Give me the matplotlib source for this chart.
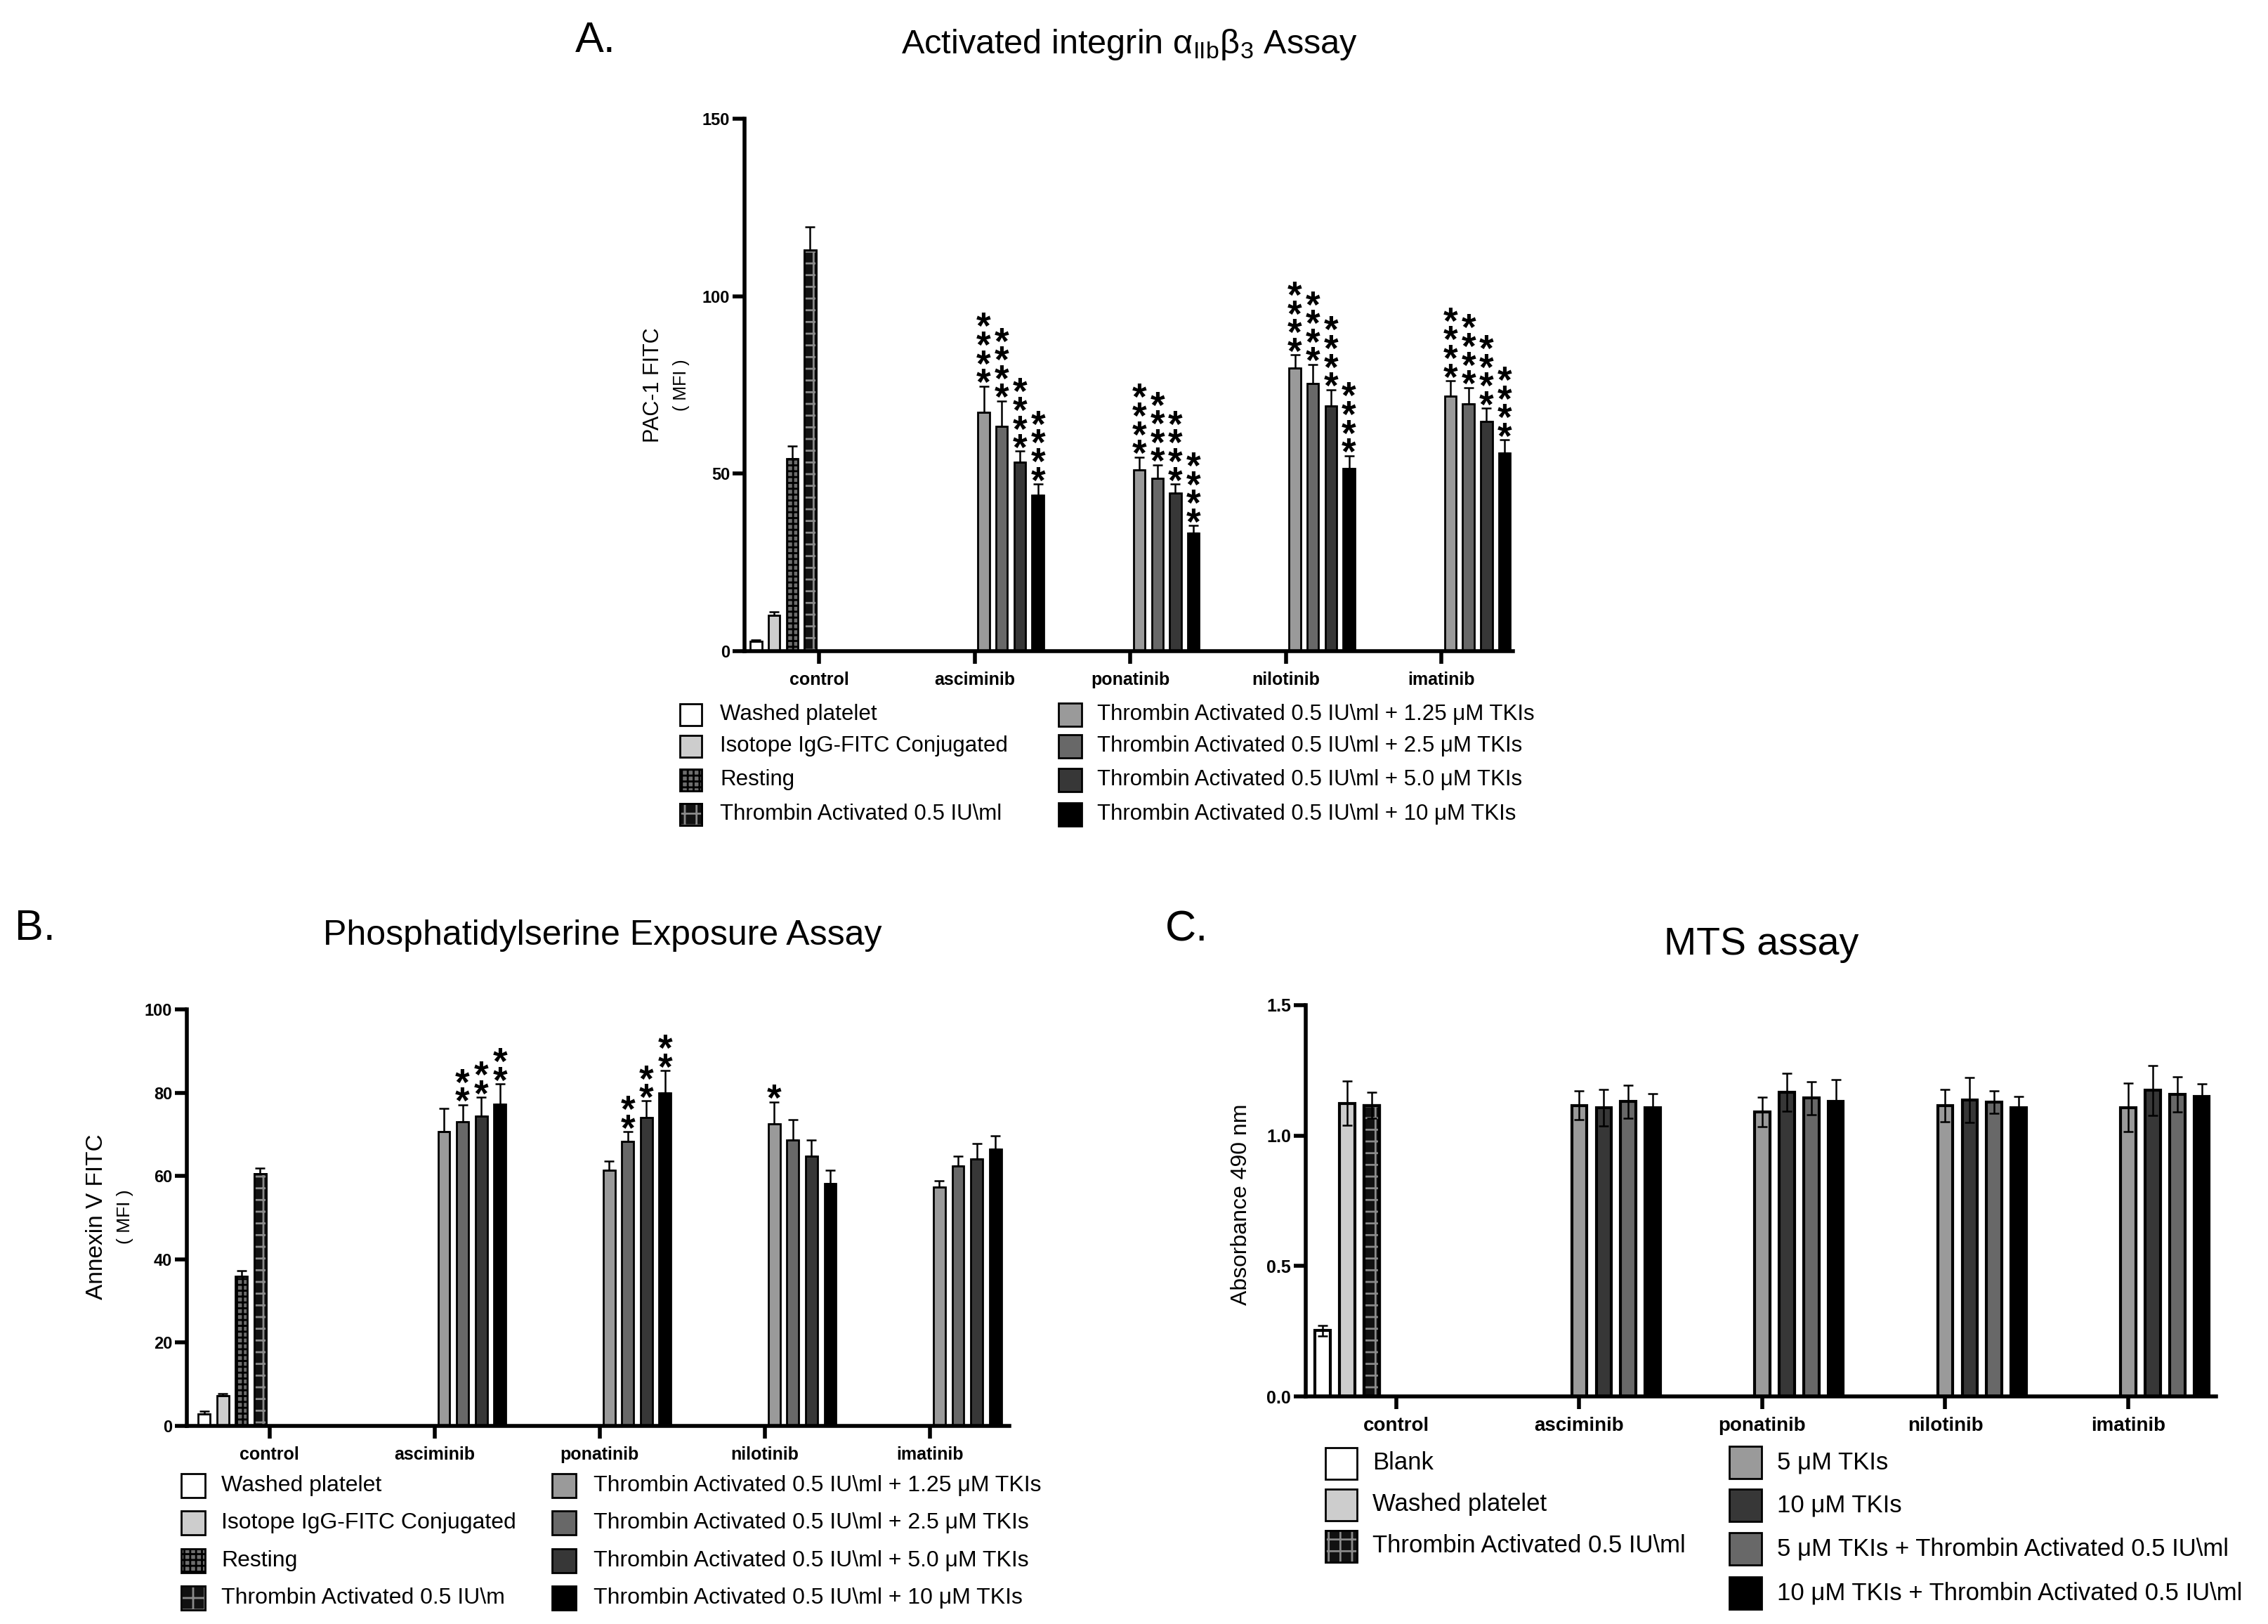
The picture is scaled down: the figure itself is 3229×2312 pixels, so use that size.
import matplotlib
matplotlib.use('Agg')
import matplotlib.pyplot as plt
from matplotlib.patches import Rectangle

plt.rcParams['font.family'] = ['Liberation Sans', 'DejaVu Sans']
plt.rcParams['mathtext.fontset'] = 'custom'
plt.rcParams['mathtext.rm'] = 'Liberation Sans'
plt.rcParams['mathtext.default'] = 'regular'
plt.rcParams['hatch.linewidth'] = 2.0

# ---------------- data ----------------
drugs = ['control', 'asciminib', 'ponatinib', 'nilotinib', 'imatinib']

# A. activated integrin aIIbb3 (PAC-1 FITC, MFI)
pac_ctrl_names = ['Washed platelet', 'Isotope IgG-FITC Conjugated', 'Resting',
                  'Thrombin Activated 0.5 IU\\ml']
pac_ctrl_mean = [2.8, 10.1, 54.2, 112.9]
pac_ctrl_sd = [0.4, 1.0, 3.6, 6.7]
pac_tki_names = ['Thrombin Activated 0.5 IU\\ml + 1.25 μM TKIs',
                 'Thrombin Activated 0.5 IU\\ml + 2.5 μM TKIs',
                 'Thrombin Activated 0.5 IU\\ml + 5.0 μM TKIs',
                 'Thrombin Activated 0.5 IU\\ml + 10 μM TKIs']
# rows: asciminib, ponatinib, nilotinib, imatinib / cols: 1.25, 2.5, 5.0, 10 uM
pac_tki_mean = [[67.3, 63.3, 53.2, 43.9],
                [51.0, 48.7, 44.6, 33.2],
                [79.7, 75.3, 69.0, 51.5],
                [71.8, 69.6, 64.8, 55.9]]
pac_tki_sd = [[7.4, 7.2, 3.1, 3.2],
              [3.7, 3.8, 2.5, 2.2],
              [3.8, 5.5, 4.7, 3.6],
              [4.4, 4.7, 3.6, 3.6]]
pac_stars = [['****', '****', '****', '****'],
             ['****', '****', '****', '****'],
             ['****', '****', '****', '****'],
             ['****', '****', '****', '****']]

# B. phosphatidylserine exposure (Annexin V FITC, MFI)
ann_ctrl_names = ['Washed platelet', 'Isotope IgG-FITC Conjugated', 'Resting',
                  'Thrombin Activated 0.5 IU\\m']
ann_ctrl_mean = [2.9, 7.3, 35.9, 60.5]
ann_ctrl_sd = [0.6, 0.4, 1.4, 1.4]
ann_tki_names = pac_tki_names
ann_tki_mean = [[70.6, 73.0, 74.3, 77.3],
                [61.4, 68.3, 74.1, 80.0],
                [72.5, 68.7, 64.7, 58.1],
                [57.4, 62.4, 64.1, 66.5]]
ann_tki_sd = [[5.6, 4.1, 4.6, 4.8],
              [2.1, 2.3, 3.9, 5.3],
              [5.3, 4.9, 3.9, 3.3],
              [1.4, 2.3, 3.7, 3.2]]
ann_stars = [['', '**', '**', '**'],
             ['', '**', '**', '**'],
             ['*', '', '', ''],
             ['', '', '', '']]

# C. MTS assay (absorbance 490 nm)
mts_ctrl_names = ['Blank', 'Washed platelet', 'Thrombin Activated 0.5 IU\\ml']
mts_ctrl_mean = [0.252, 1.124, 1.116]
mts_ctrl_sd = [0.020, 0.085, 0.050]
mts_tki_names = ['5 μM TKIs', '10 μM TKIs',
                 '5 μM TKIs + Thrombin Activated 0.5 IU\\ml',
                 '10 μM TKIs + Thrombin Activated 0.5 IU\\ml']
mts_tki_mean = [[1.116, 1.107, 1.130, 1.107],
                [1.091, 1.166, 1.144, 1.130],
                [1.116, 1.137, 1.129, 1.107],
                [1.107, 1.173, 1.158, 1.151]]
mts_tki_sd = [[0.056, 0.069, 0.064, 0.055],
              [0.057, 0.072, 0.063, 0.084],
              [0.062, 0.086, 0.043, 0.044],
              [0.093, 0.095, 0.066, 0.048]]

# ---------------- styles ----------------
# (face, hatch, hatch colour)
WHITE = ('white', None, None)
LIGHT = ('#cdcdcd', None, None)
RESTING = ('#6e6e6e', '++', 'black')
THROMBIN = ('#111111', '+', '#8a8a8a')
G1 = ('#9a9a9a', None, None)
G2 = ('#686868', None, None)
G3 = ('#373737', None, None)
G4 = ('#000000', None, None)

W, H = 3229, 2312
fig = plt.figure(figsize=(W / 100, H / 100), dpi=100)

lay = fig.add_axes([0, 0, 1, 1])
lay.set_xlim(0, W)
lay.set_ylim(H, 0)
lay.axis('off')


def px_axes(l, t, r, b):
    return fig.add_axes([l / W, 1 - b / H, (r - l) / W, (b - t) / H])


def bars(ax, x, h, w, style, lw):
    face, hatch, hcol = style
    if hatch and hcol == 'black':
        ax.bar(x, h, w, color=face, edgecolor='black', linewidth=lw, hatch=hatch, zorder=2)
        return
    ax.bar(x, h, w, color=face, edgecolor='black', linewidth=lw, zorder=2)
    if hatch:
        ax.bar(x, h, w, fill=False, edgecolor=hcol, linewidth=0, hatch=hatch, zorder=2.1)
        ax.bar(x, h, w, fill=False, edgecolor='black', linewidth=lw, zorder=2.2)


def swatch(x, y, size, style, lw=2.0):
    face, hatch, hcol = style
    if hatch and hcol == 'black':
        lay.add_patch(Rectangle((x, y - size / 2), size, size, facecolor=face,
                                edgecolor='black', linewidth=lw, hatch=hatch))
        return
    lay.add_patch(Rectangle((x, y - size / 2), size, size, facecolor=face,
                            edgecolor='black', linewidth=lw))
    if hatch:
        lay.add_patch(Rectangle((x, y - size / 2), size, size, fill=False,
                                edgecolor=hcol, linewidth=0, hatch=hatch))
        lay.add_patch(Rectangle((x, y - size / 2), size, size, fill=False,
                                edgecolor='black', linewidth=lw))


def panel(ax, ctrl_mean, ctrl_sd, ctrl_styles, tki_mean, tki_sd, tki_styles,
          step, width, lw, both_err, stars=None, star_fs=38, star_off=0.0):
    n = len(ctrl_styles) + len(tki_styles)
    offs = [(i - (n - 1) / 2) * step for i in range(n)]
    # control group
    for i, st in enumerate(ctrl_styles):
        x = 0 + offs[i]
        bars(ax, [x], [ctrl_mean[i]], width, st, lw)
        lo = ctrl_sd[i] if both_err else 0
        ax.errorbar([x], [ctrl_mean[i]], yerr=[[lo], [ctrl_sd[i]]], fmt='none',
                    ecolor='black', elinewidth=1.8, capsize=5, capthick=1.8, zorder=3)
    # TKI groups
    k0 = len(ctrl_styles)
    for j, st in enumerate(tki_styles):
        xs = [d + 1 + offs[k0 + j] for d in range(len(tki_mean))]
        hs = [row[j] for row in tki_mean]
        es = [row[j] for row in tki_sd]
        bars(ax, xs, hs, width, st, lw)
        lo = es if both_err else [0] * len(es)
        ax.errorbar(xs, hs, yerr=[lo, es], fmt='none', ecolor='black',
                    elinewidth=1.8, capsize=5, capthick=1.8, zorder=3)
        if stars:
            for d in range(len(tki_mean)):
                s = stars[d][j]
                if s:
                    ax.annotate('\n'.join(s), xy=(xs[d], hs[d] + es[d]),
                                xytext=(0, star_off), textcoords='offset points',
                                ha='center', va='bottom', fontsize=star_fs,
                                fontweight='bold', linespacing=0.40, zorder=4)


def style_axes(ax, xlim, ylim, yticks, ylabels, xfs, yfs, sw):
    for s in ['top', 'right']:
        ax.spines[s].set_visible(False)
    for s in ['left', 'bottom']:
        ax.spines[s].set_linewidth(sw)
    ax.set_xlim(*xlim)
    ax.set_ylim(*ylim)
    ax.set_yticks(yticks)
    ax.set_yticklabels(ylabels, fontsize=yfs, fontweight='bold')
    ax.set_xticks(range(len(drugs)))
    ax.set_xticklabels(drugs, fontsize=xfs, fontweight='bold')
    ax.tick_params(axis='y', length=12, width=sw, pad=3)
    ax.tick_params(axis='x', length=13, width=sw, pad=8)


# ---------------- panel A ----------------
axA = px_axes(1060, 169, 2154, 927)
panel(axA, pac_ctrl_mean, pac_ctrl_sd, [WHITE, LIGHT, RESTING, THROMBIN],
      pac_tki_mean, pac_tki_sd, [G1, G2, G3, G4], step=0.116, width=0.074,
      lw=2.0, both_err=False, stars=pac_stars, star_fs=38, star_off=-17)
style_axes(axA, (-0.48, 4.46), (0, 150), [0, 50, 100, 150],
           ['0', '50', '100', '150'], 18, 17, 4)

# ---------------- panel B ----------------
axB = px_axes(266, 1437, 1437, 2030)
panel(axB, ann_ctrl_mean, ann_ctrl_sd, [WHITE, LIGHT, RESTING, THROMBIN],
      ann_tki_mean, ann_tki_sd, [G1, G2, G3, G4], step=0.113, width=0.072,
      lw=2.0, both_err=False, stars=ann_stars, star_fs=38, star_off=-17)
style_axes(axB, (-0.50, 4.48), (0, 100), [0, 20, 40, 60, 80, 100],
           ['0', '20', '40', '60', '80', '100'], 18, 17, 4)

# ---------------- panel C ----------------
axC = px_axes(1859, 1431, 3155, 1988)
panel(axC, mts_ctrl_mean, mts_ctrl_sd, [WHITE, LIGHT, THROMBIN],
      mts_tki_mean, mts_tki_sd, [G1, G3, G2, G4], step=0.134, width=0.083,
      lw=3.0, both_err=True)
style_axes(axC, (-0.495, 4.48), (0, 1.5), [0, 0.5, 1.0, 1.5],
           ['0.0', '0.5', '1.0', '1.5'], 20, 18, 4)

# ---------------- titles / labels ----------------
lay.text(848, 58, 'A.', fontsize=44, ha='center', va='center')
lay.text(50, 1322, 'B.', fontsize=44, ha='center', va='center')
lay.text(1689, 1324, 'C.', fontsize=44, ha='center', va='center')

lay.text(1608, 64, r'Activated integrin $α_{IIb}β_{3}$ Assay', fontsize=35,
         ha='center', va='center')
lay.text(858, 1332, 'Phosphatidylserine Exposure Assay', fontsize=36,
         ha='center', va='center')
lay.text(2508, 1345, 'MTS assay', fontsize=40, ha='center', va='center')

lay.text(930, 548, 'PAC-1 FITC', fontsize=22, rotation=90, ha='center', va='center')
lay.text(970, 548, '( MFI )', fontsize=18, rotation=90, ha='center', va='center')
lay.text(137, 1732, 'Annexin V FITC', fontsize=24, rotation=90, ha='center', va='center')
lay.text(178, 1732, '( MFI )', fontsize=19, rotation=90, ha='center', va='center')
lay.text(1767, 1715, 'Absorbance 490 nm', fontsize=23, rotation=90,
         ha='center', va='center')

# ---------------- legends ----------------
def legend_col(x_sw, x_txt, rows, names, styles, size, fs):
    for y, name, st in zip(rows, names, styles):
        swatch(x_sw, y, size, st)
        lay.text(x_txt, y, name, fontsize=fs, ha='left', va='center')


legend_col(968, 1025, [1017, 1062, 1110, 1159], pac_ctrl_names,
           [WHITE, LIGHT, RESTING, THROMBIN], 31, 22.5)
legend_col(1507, 1562, [1017, 1062, 1110, 1159], pac_tki_names,
           [G1, G2, G3, G4], 33, 22.5)

legend_col(258, 315, [2115, 2168, 2222, 2275], ann_ctrl_names,
           [WHITE, LIGHT, RESTING, THROMBIN], 34, 23)
legend_col(786, 845, [2115, 2168, 2222, 2275], ann_tki_names,
           [G1, G2, G3, G4], 34, 23)

legend_col(1887, 1954, [2083, 2142, 2201], mts_ctrl_names,
           [WHITE, LIGHT, THROMBIN], 45, 25)
legend_col(2462, 2530, [2082, 2143, 2205, 2268], mts_tki_names,
           [G1, G3, G2, G4], 46, 25)

fig.savefig('out.png', dpi=100)
